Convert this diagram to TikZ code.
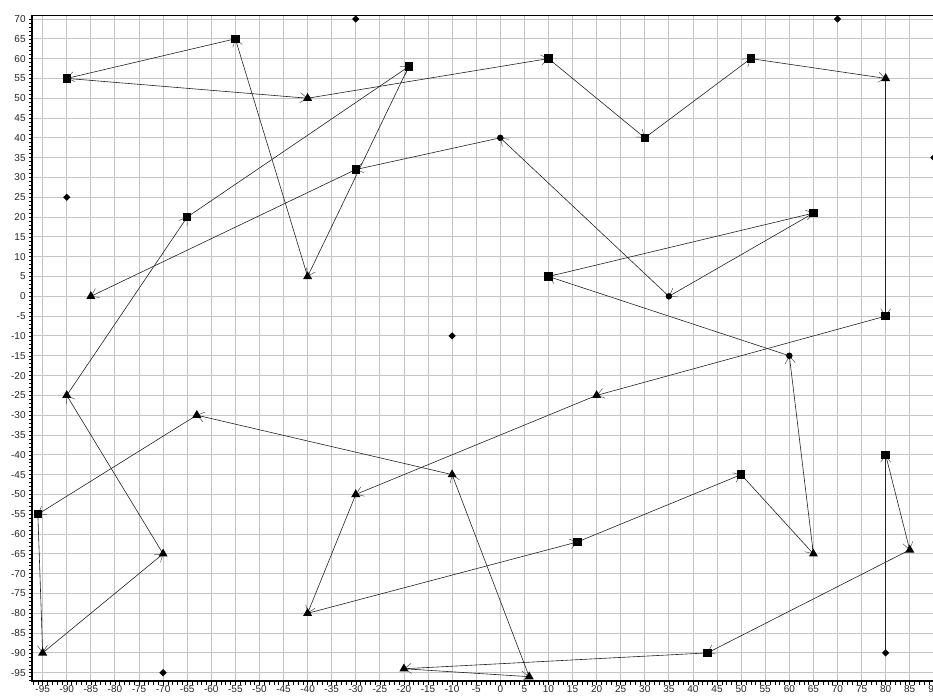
\documentclass[tikz,border=0pt]{standalone}
\usepackage{fontspec}
\setmainfont{Liberation Sans}
\usetikzlibrary{arrows.meta,shapes.geometric}
\definecolor{gridc}{RGB}{196,196,196}
\definecolor{edgec}{RGB}{35,35,35}
\definecolor{tipc}{RGB}{80,80,80}
\begin{document}
\begin{tikzpicture}[x=4.817pt,y=3.962pt,
  edge/.style={draw=edgec,line width=0.6pt,-{Straight Barb[length=7pt,width=10pt,line width=0.5pt,color=tipc]}},
  gridline/.style={draw=gridc,line width=0.9pt},
  tick/.style={draw=black,line width=0.5pt},
  sq/.style={rectangle,fill=black,inner sep=0pt,minimum size=8.5pt},
  tri/.style={regular polygon,regular polygon sides=3,fill=black,inner sep=0pt,minimum size=10.5pt},
  dia/.style={diamond,fill=black,inner sep=0pt,minimum size=7.5pt},
  dot/.style={circle,fill=black,inner sep=0pt,minimum size=6.5pt},
  lab/.style={font=\fontsize{10}{12}\selectfont,text=black!85,inner sep=0pt}]

\clip (-103.86,-100.88) rectangle (89.83,74.79);
\fill[white] (-103.86,-100.88) rectangle (89.83,74.79);

% grid
\foreach \x in {-95,-90,...,90} \draw[gridline] (\x,-97.1) -- (\x,70.92);
\foreach \y in {-95,-90,...,70} \draw[gridline] (-97.16,\y) -- (90,\y);

% minor ticks
\foreach \x in {-97,...,89} \draw[tick] (\x,-97.1) -- ++(0,-3.5pt);
\foreach \y in {-97,...,70} \draw[tick] (-97.16,\y) -- ++(-3pt,0);

% axes and frame
\draw[line width=2.4pt] (-97.16,70.92) -- (-97.16,-97.1) -- (90,-97.1);
\draw[line width=0.8pt] (-97.16,70.92) -- (90,70.92);

% axis labels
\foreach \y [count=\i] in {-95,-90,...,70} \node[lab,anchor=east] (yl\i) at (-98.5,\y) {\y};
\foreach \x [count=\i] in {-95,-90,...,90} \node[lab,anchor=north] (xl\i) at (\x,-98.3) {\x};

% route points
\coordinate (p1) at (80,-90);
\coordinate (p2) at (80,-40);
\coordinate (p3) at (85,-64);
\coordinate (p4) at (43,-90);
\coordinate (p5) at (-20,-94);
\coordinate (p6) at (6,-96);
\coordinate (p7) at (-10,-45);
\coordinate (p8) at (-63,-30);
\coordinate (p9) at (-96,-55);
\coordinate (p10) at (-95,-90);
\coordinate (p11) at (-70,-65);
\coordinate (p12) at (-90,-25);
\coordinate (p13) at (-65,20);
\coordinate (p14) at (-19,58);
\coordinate (p15) at (-40,5);
\coordinate (p16) at (-55,65);
\coordinate (p17) at (-90,55);
\coordinate (p18) at (-40,50);
\coordinate (p19) at (10,60);
\coordinate (p20) at (30,40);
\coordinate (p21) at (52,60);
\coordinate (p22) at (80,55);
\coordinate (p23) at (80,-5);
\coordinate (p24) at (20,-25);
\coordinate (p25) at (-30,-50);
\coordinate (p26) at (-40,-80);
\coordinate (p27) at (16,-62);
\coordinate (p28) at (50,-45);
\coordinate (p29) at (65,-65);
\coordinate (p30) at (60,-15);
\coordinate (p31) at (10,5);
\coordinate (p32) at (65,21);
\coordinate (p33) at (35,0);
\coordinate (p34) at (0,40);
\coordinate (p35) at (-30,32);
\coordinate (p36) at (-85,0);

% connectors
\foreach \i [evaluate=\i as \j using int(\i+1)] in {1,...,35}
  \draw[edge] (p\i) -- (p\j);

% markers
\foreach \i in {2,4,9,13,14,16,17,19,20,21,23,27,28,31,32,35}
  \node[sq] (m\i) at (p\i) {};
\foreach \i in {3,5,6,7,8,10,11,12,15,18,22,24,25,26,29,36}
  \node[tri] (m\i) at (p\i) {};
\foreach \i in {30,33,34}
  \node[dot] (m\i) at (p\i) {};
\node[dia] (m1) at (p1) {};

% isolated points
\node[dia] (d1) at (-30,70) {};
\node[dia] (d2) at (70,70) {};
\node[dia] (d3) at (-90,25) {};
\node[dia] (d4) at (-10,-10) {};
\node[dia] (d5) at (-70,-95) {};
\node[dia] (d6) at (90,35) {};
\end{tikzpicture}
\end{document}
